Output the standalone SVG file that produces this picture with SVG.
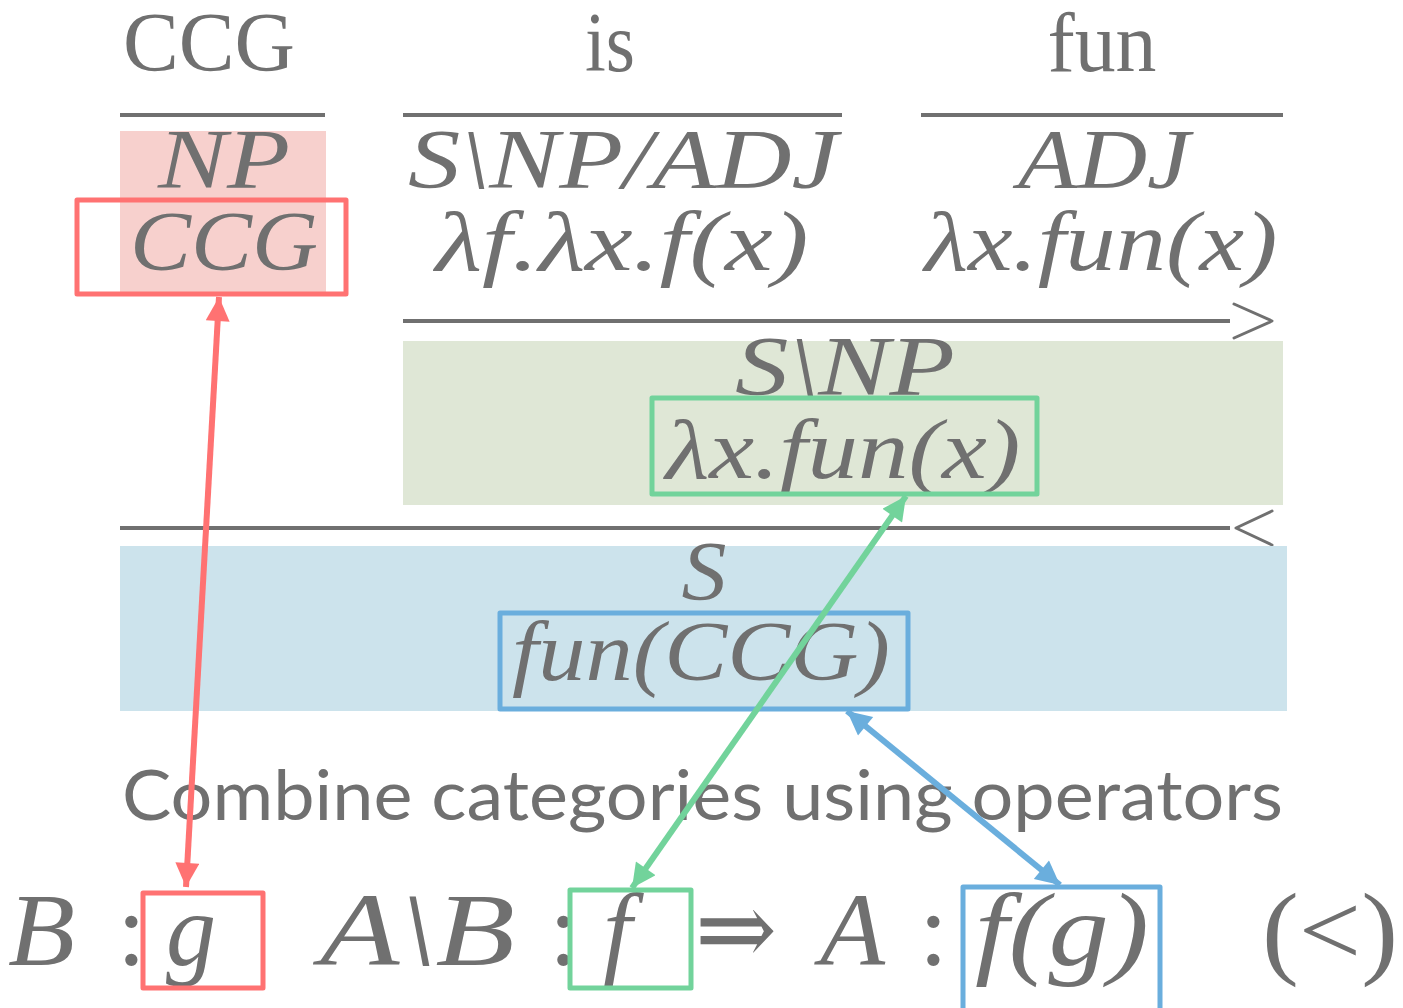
<svg xmlns="http://www.w3.org/2000/svg" width="1403" height="1008" viewBox="0 0 1403 1008">
  <style>
    .word { font-family: "Liberation Serif", serif; font-size: 84px; fill: #707070; text-anchor: middle; }
    .math { font-family: "Liberation Serif", serif; font-style: italic; font-size: 84px; fill: #707070; text-anchor: middle; }
    .big { font-family: "Liberation Serif", serif; font-style: italic; font-size: 104px; fill: #707070; }
    .up { font-family: "Liberation Serif", "DejaVu Serif", serif; font-size: 104px; fill: #707070; }
    .sans { font-family: Lato, "Open Sans", sans-serif; font-size: 70px; fill: #707070; }
    .rule { stroke: #707070; stroke-width: 4; fill: none; }
    .op { stroke: #707070; stroke-width: 3; fill: none; stroke-linecap: round; stroke-linejoin: round; }
    .box { fill: none; stroke-width: 5; stroke-linejoin: round; }
    .red { stroke: #ff7272; }
    .green { stroke: #72d39b; }
    .blue { stroke: #6aaedd; }
  </style>
  <defs>
    <marker id="hRed" viewBox="0 0 10 10" refX="10" refY="5" markerWidth="4.5" markerHeight="4" orient="auto-start-reverse" markerUnits="strokeWidth">
      <path d="M0,0 L10,5 L0,10 Z" fill="#ff7272"/>
    </marker>
    <marker id="hGreen" viewBox="0 0 10 10" refX="10" refY="5" markerWidth="4.5" markerHeight="4" orient="auto-start-reverse" markerUnits="strokeWidth">
      <path d="M0,0 L10,5 L0,10 Z" fill="#72d39b"/>
    </marker>
    <marker id="hBlue" viewBox="0 0 10 10" refX="10" refY="5" markerWidth="4.5" markerHeight="4" orient="auto-start-reverse" markerUnits="strokeWidth">
      <path d="M0,0 L10,5 L0,10 Z" fill="#6aaedd"/>
    </marker>
  </defs>

  <rect width="1403" height="1008" fill="#ffffff"/>

  <!-- lexical entries -->
  <g id="word-ccg">
    <text class="word" x="209" y="71" textLength="172" lengthAdjust="spacingAndGlyphs">CCG</text>
    <line class="rule" x1="120" y1="115" x2="325" y2="115"/>
    <rect x="120" y="131" width="206" height="161" fill="#f7d0cd"/>
    <text class="math" x="224" y="188" textLength="132" lengthAdjust="spacingAndGlyphs">NP</text>
    <text class="math" x="224" y="270" textLength="188" lengthAdjust="spacingAndGlyphs">CCG</text>
    <rect class="box red" x="77" y="200" width="269" height="94"/>
  </g>

  <g id="word-is">
    <text class="word" x="610" y="71" textLength="50" lengthAdjust="spacingAndGlyphs">is</text>
    <line class="rule" x1="403" y1="115" x2="842" y2="115"/>
    <text class="math" x="623" y="188" textLength="430" lengthAdjust="spacingAndGlyphs">S\NP/ADJ</text>
    <text class="math" x="622" y="270" textLength="373" lengthAdjust="spacingAndGlyphs">λf.λx.f(x)</text>
  </g>

  <g id="word-fun">
    <text class="word" x="1102" y="71" textLength="109" lengthAdjust="spacingAndGlyphs">fun</text>
    <line class="rule" x1="921" y1="115" x2="1283" y2="115"/>
    <text class="math" x="1104" y="188" textLength="172" lengthAdjust="spacingAndGlyphs">ADJ</text>
    <text class="math" x="1101" y="270" textLength="353" lengthAdjust="spacingAndGlyphs">λx.fun(x)</text>
  </g>

  <!-- forward application -->
  <g id="step-forward">
    <line class="rule" x1="403" y1="321" x2="1230" y2="321"/>
    <polyline class="op" points="1234,304 1272,321 1234,338"/>
    <rect x="403" y="341" width="880" height="164" fill="#dfe7d6"/>
    <text class="math" x="845" y="395" textLength="220" lengthAdjust="spacingAndGlyphs">S\NP</text>
    <text class="math" x="843" y="478" textLength="355" lengthAdjust="spacingAndGlyphs">λx.fun(x)</text>
    <rect class="box green" x="652" y="398" width="385" height="96"/>
  </g>

  <!-- backward application -->
  <g id="step-backward">
    <line class="rule" x1="120" y1="528" x2="1230" y2="528"/>
    <polyline class="op" points="1272,511 1236,528 1272,545"/>
    <rect x="120" y="546" width="1167" height="165" fill="#cce3ec"/>
    <text class="math" x="704" y="600" textLength="45" lengthAdjust="spacingAndGlyphs">S</text>
    <text class="math" x="701" y="680" textLength="378" lengthAdjust="spacingAndGlyphs">fun(CCG)</text>
    <rect class="box blue" x="500" y="613" width="408" height="96"/>
  </g>

  <g id="caption">
    <text class="sans" x="122" y="820" textLength="1161" lengthAdjust="spacingAndGlyphs">Combine categories using operators</text>
  </g>

  <!-- rule schema -->
  <g id="schema">
    <text class="big" x="8" y="965" textLength="67" lengthAdjust="spacingAndGlyphs">B</text>
    <text class="up" x="117" y="965">:</text>
    <text class="big" x="166" y="965" textLength="50" lengthAdjust="spacingAndGlyphs">g</text>
    <rect class="box red" x="143" y="893" width="120" height="95"/>
    <text class="big" x="320" y="965" textLength="195" lengthAdjust="spacingAndGlyphs">A\B</text>
    <text class="up" x="549" y="965">:</text>
    <text class="big" x="603" y="965">f</text>
    <rect class="box green" x="570" y="890" width="121" height="98"/>
    <text class="up" x="695" y="965" textLength="82" lengthAdjust="spacingAndGlyphs">⇒</text>
    <text class="big" x="820" y="965" textLength="65" lengthAdjust="spacingAndGlyphs">A</text>
    <text class="up" x="919" y="965">:</text>
    <text class="big" x="975" y="965" textLength="174" lengthAdjust="spacingAndGlyphs">f(g)</text>
    <rect class="box blue" x="963" y="887" width="197" height="126"/>
    <text class="up" x="1262" y="965" textLength="136" lengthAdjust="spacingAndGlyphs">(&lt;)</text>
  </g>

  <!-- connectors between derivation and schema -->
  <g id="connectors" stroke-width="6" fill="none">
    <line x1="219" y1="297" x2="186" y2="887" stroke="#ff7272" marker-start="url(#hRed)" marker-end="url(#hRed)"/>
    <line x1="906" y1="496" x2="632" y2="888" stroke="#72d39b" marker-start="url(#hGreen)" marker-end="url(#hGreen)"/>
    <line x1="847" y1="711" x2="1060" y2="885" stroke="#6aaedd" marker-start="url(#hBlue)" marker-end="url(#hBlue)"/>
  </g>
</svg>
